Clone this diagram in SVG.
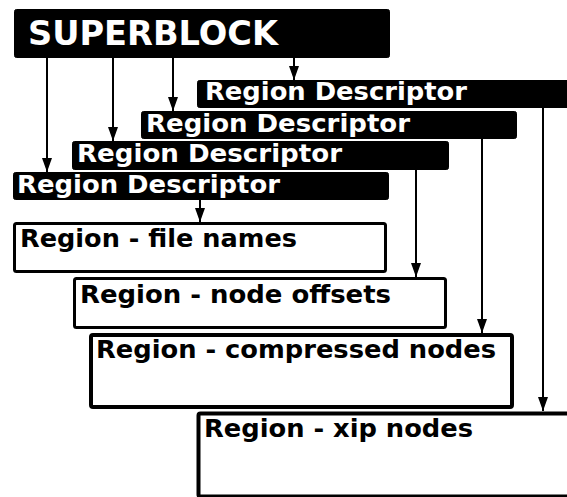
<svg xmlns="http://www.w3.org/2000/svg" width="567" height="497" viewBox="0 0 567 497">
<style>
  .blk { fill: #000; stroke: #000; stroke-width: 1; }
  .box { fill: #fff; stroke: #000; }
  .wt { fill: #fff; font-family: "DejaVu Sans", sans-serif; font-weight: bold; }
  .bt { fill: #000; font-family: "DejaVu Sans", sans-serif; font-weight: bold; font-size: 24px; }
  .rd { font-size: 24px; }
  .con { stroke: #000; stroke-width: 2; fill: none; marker-end: url(#ah); }
</style>
<defs>
  <marker id="ah" viewBox="0 0 14 10" refX="14" refY="5" markerWidth="14" markerHeight="10" markerUnits="userSpaceOnUse" orient="auto">
    <path d="M0,0 L14,5 L0,10 z" fill="#000"/>
  </marker>
</defs>
<rect width="567" height="497" fill="#fff"/>
<g id="superblock">
  <rect class="blk" x="14.5" y="9.5" width="375" height="48" rx="2"/>
  <text class="wt" x="28" y="45" font-size="34" textLength="250" lengthAdjust="spacingAndGlyphs">SUPERBLOCK</text>
</g>
<g id="rd1">
  <rect class="blk" x="197.5" y="80.5" width="380" height="27" rx="2"/>
  <text class="wt rd" x="205" y="100" textLength="262" lengthAdjust="spacingAndGlyphs">Region Descriptor</text>
</g>
<g id="rd2">
  <rect class="blk" x="141.5" y="111.5" width="375" height="27" rx="2"/>
  <text class="wt rd" x="146" y="132" textLength="264" lengthAdjust="spacingAndGlyphs">Region Descriptor</text>
</g>
<g id="rd3">
  <rect class="blk" x="72.5" y="141.5" width="376" height="28" rx="2"/>
  <text class="wt rd" x="77" y="162" textLength="265" lengthAdjust="spacingAndGlyphs">Region Descriptor</text>
</g>
<g id="rd4">
  <rect class="blk" x="13.5" y="172.5" width="375" height="27" rx="2"/>
  <text class="wt rd" x="17" y="193" textLength="263" lengthAdjust="spacingAndGlyphs">Region Descriptor</text>
</g>
<g id="file-names">
  <rect class="box" x="14.5" y="223.5" width="371" height="48" rx="2" stroke-width="3"/>
  <text class="bt" x="20" y="247" textLength="277" lengthAdjust="spacingAndGlyphs">Region - file names</text>
</g>
<g id="node-offsets">
  <rect class="box" x="74.5" y="278.5" width="371" height="49" rx="2" stroke-width="3"/>
  <text class="bt" x="80" y="303" textLength="311" lengthAdjust="spacingAndGlyphs">Region - node offsets</text>
</g>
<g id="compressed-nodes">
  <rect class="box" x="91" y="335" width="421" height="72" rx="2" stroke-width="4"/>
  <text class="bt" x="96" y="358" textLength="400" lengthAdjust="spacingAndGlyphs">Region - compressed nodes</text>
</g>
<g id="xip-nodes">
  <rect class="box" x="198.5" y="413.5" width="400" height="83" rx="2" stroke-width="4"/>
  <text class="bt" x="204" y="437" textLength="269" lengthAdjust="spacingAndGlyphs">Region - xip nodes</text>
</g>
<g id="connectors">
  <line class="con" x1="47" y1="58" x2="47" y2="172"/>
  <line class="con" x1="113" y1="58" x2="113" y2="141"/>
  <line class="con" x1="173" y1="58" x2="173" y2="111"/>
  <line class="con" x1="294" y1="58" x2="294" y2="80"/>
  <line class="con" x1="200" y1="200" x2="200" y2="222"/>
  <line class="con" x1="416" y1="170" x2="416" y2="277"/>
  <line class="con" x1="482" y1="139" x2="482" y2="333"/>
  <line class="con" x1="543" y1="108" x2="543" y2="411"/>
</g>
</svg>
